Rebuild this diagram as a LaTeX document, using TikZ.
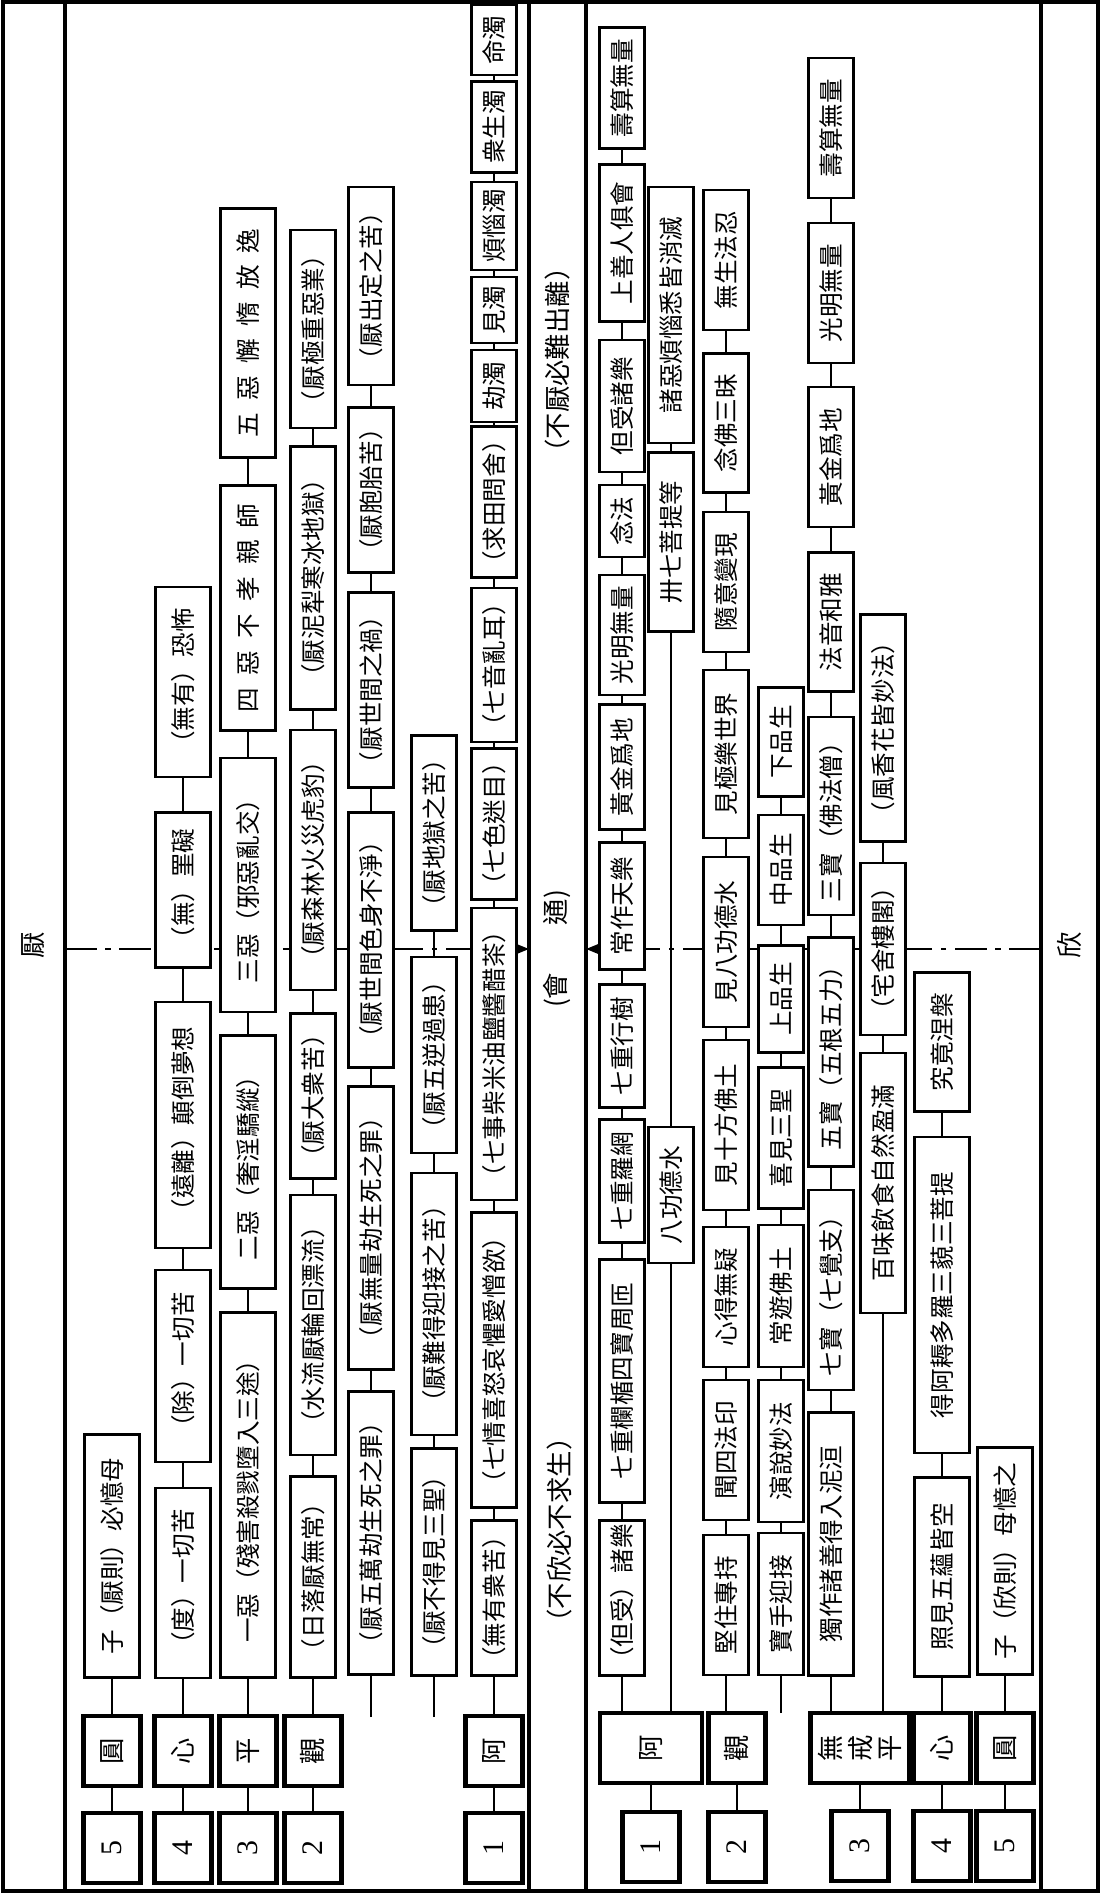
\documentclass[tikz,border=0pt]{standalone}
\usepackage{fontspec}
\setmainfont{Noto Sans CJK TC}
\newfontfamily\numfont{Liberation Serif}
\usetikzlibrary{arrows.meta}
\begin{document}
\begin{tikzpicture}[x=0.02cm, y=-0.02cm, line width=1.5pt,
    box/.style={draw, fill=white, rotate=90, line width=1.4pt, inner sep=1pt,
      minimum height=45*0.02cm, font=\fontsize{14}{16}\selectfont},
    wide/.style={box, minimum height=55*0.02cm},
    boxlen/.style={minimum width=#1*0.02cm},
    root/.style={draw, fill=white, rotate=90, line width=2.6pt, inner sep=1pt,
      minimum width=70*0.02cm, minimum height=57*0.02cm, font=\fontsize{15}{17}\selectfont},
    numbox/.style={root, font=\numfont\fontsize{17}{19}\selectfont},
    side/.style={rotate=90, font=\fontsize{15}{17}\selectfont},
    frame/.style={line width=2.2pt},
    axis/.style={line width=1.3pt, dash pattern=on 18pt off 5pt on 3pt off 5pt,
      -{Triangle[length=9pt,width=7pt]}}]
    \useasboundingbox (0,0) rectangle (1108,1894);

    % Cornice e divisori
    \draw[frame] (3,2) rectangle (1098,1891);
    \draw[frame] (65,2) -- (65,1891);
    \draw[frame] (1041,2) -- (1041,1891);
    \draw[frame] (529,2) -- (529,1891);
    \draw[frame] (586,2) -- (586,1891);

    % Asse centrale (tratto-punto)
    \coordinate (yl) at (65,949);
    \coordinate (ym1) at (529,949);
    \coordinate (ym2) at (586,949);
    \coordinate (xr) at (1041,949);
    \draw[axis] (yl) -- (ym1);
    \draw[axis] (xr) -- (ym2);

    % Titoli laterali e centrali
    \node[side] (tyan) at (33,945) {厭};
    \node[side] (txin) at (1069,945) {欣};
    \node[side] (t1) at (557,360) {（不厭必難出離）};
    \node[side] (t2) at (557,949) {(會\hspace{1.8em}通)};
    \node[side] (t3) at (559,1530) {（不欣必不求生）};

    % Meta superiore: colonna 5
    \node[numbox] (ua0) at (112,1848) {5};
    \node[root] (ua) at (112,1751) {圓};
    \node[wide, boxlen=243] (ua1) at (112,1556) {子（厭則）必憶母};

    % colonna 4
    \node[numbox] (ub0) at (183,1848) {4};
    \node[root] (ub) at (183,1751) {心};
    \node[wide, boxlen=190] (ub1) at (183,1583) {（度）一切苦};
    \node[wide, boxlen=192] (ub2) at (183,1366) {（除）一切苦};
    \node[wide, boxlen=246] (ub3) at (183,1125) {（遠離）顛倒夢想};
    \node[wide, boxlen=155] (ub4) at (183,890) {（無）罣礙};
    \node[wide, boxlen=190] (ub5) at (183,682) {（無有）恐怖};

    % colonna 3
    \node[numbox] (uc0) at (248,1848) {3};
    \node[root] (uc) at (248,1751) {平};
    \node[wide, boxlen=365] (uc1) at (248,1495) {一惡（殘害殺戮墮入三途）};
    \node[wide, boxlen=253] (uc2) at (248,1162) {二惡（奢淫驕縱）};
    \node[wide, boxlen=254] (uc3) at (248,885) {三惡（邪惡亂交）};
    \node[wide, boxlen=245] (uc4) at (248,608) {四\enskip 惡\enskip 不\enskip 孝\enskip 親\enskip 師};
    \node[wide, boxlen=249] (uc5) at (248,333) {五\enskip 惡\enskip 懈\enskip 惰\enskip 放\enskip 逸};

    % colonna 2
    \node[numbox] (ud0) at (313,1848) {2};
    \node[root] (ud) at (313,1751) {觀};
    \node[box, boxlen=201] (ud1) at (313,1577) {（日落厭無常）};
    \node[box, boxlen=260] (ud2) at (313,1325) {（水流厭輪回漂流）};
    \node[box, boxlen=165] (ud3) at (313,1096) {（厭大衆苦）};
    \node[box, boxlen=260] (ud4) at (313,860) {（厭森林火災虎豹）};
    \node[box, boxlen=263] (ud5) at (313,578) {（厭泥犁寒冰地獄）};
    \node[box, boxlen=198] (ud6) at (313,329) {（厭極重惡業）};

    % rami liberi
    \coordinate (ue0) at (371,1717);
    \node[box, boxlen=283] (ue1) at (371,1533) {（厭五萬劫生死之罪）};
    \node[box, boxlen=283] (ue2) at (371,1228) {（厭無量劫生死之罪）};
    \node[box, boxlen=255] (ue3) at (371,940) {（厭世間色身不淨）};
    \node[box, boxlen=195] (ue4) at (371,690) {（厭世間之禍）};
    \node[box, boxlen=165] (ue5) at (371,490) {（厭胞胎苦）};
    \node[box, boxlen=198] (ue6) at (371,286) {（厭出定之苦）};

    \coordinate (uf0) at (434,1717);
    \node[box, boxlen=227] (uf1) at (434,1562) {（厭不得見三聖）};
    \node[box, boxlen=262] (uf2) at (434,1304) {（厭難得迎接之苦）};
    \node[box, boxlen=196] (uf3) at (434,1055) {（厭五逆過患）};
    \node[box, boxlen=195] (uf4) at (434,833) {（厭地獄之苦）};

    % colonna 1
    \node[numbox] (ug0) at (494,1848) {1};
    \node[root] (ug) at (494,1751) {阿};
    \node[box, boxlen=155] (ug1) at (494,1598) {（無有衆苦）};
    \node[box, boxlen=295] (ug2) at (494,1360) {（七情喜怒哀懼愛憎欲）};
    \node[box, boxlen=292] (ug3) at (494,1054) {（七事柴米油鹽醬醋茶）};
    \node[box, boxlen=148] (ug4) at (494,824) {（七色迷目）};
    \node[box, boxlen=154] (ug5) at (494,665) {（七音亂耳）};
    \node[box, boxlen=151] (ug6) at (494,502) {（求田問舍）};
    \node[box, boxlen=72] (ug7) at (494,386) {劫濁};
    \node[box, boxlen=66] (ug8) at (494,310) {見濁};
    \node[box, boxlen=88] (ug9) at (494,226) {煩惱濁};
    \node[box, boxlen=91] (ug10) at (494,127) {衆生濁};
    \node[box, boxlen=70] (ug11) at (494,40) {命濁};

    % Meta inferiore: colonna 1
    \node[numbox] (la0) at (651,1847) {1};
    \node[root, minimum height=102*0.02cm] (la) at (651,1748) {阿};
    \node[box, boxlen=155] (lh1) at (622,1598) {（但受）諸樂};
    \node[box, boxlen=243] (lh2) at (622,1381) {七重欄楯四寶周匝};
    \node[box, boxlen=123] (lh3) at (622,1181) {七重羅網};
    \node[box, boxlen=123] (lh4) at (622,1046) {七重行樹};
    \node[box, boxlen=127] (lh5) at (622,906) {常作天樂};
    \node[box, boxlen=125] (lh6) at (622,767) {黃金爲地};
    \node[box, boxlen=120] (lh7) at (622,635) {光明無量};
    \node[box, boxlen=72] (lh8) at (622,521) {念法};
    \node[box, boxlen=132] (lh9) at (622,406) {但受諸樂};
    \node[box, boxlen=157] (lh10) at (622,243) {上善人俱會};
    \node[box, boxlen=121] (lh11) at (622,88) {壽算無量};

    \node[box, boxlen=136] (li1) at (671,1195) {八功德水};
    \node[box, boxlen=179] (li2) at (671,542) {卅七菩提等};
    \node[box, boxlen=256] (li3) at (671,315) {諸惡煩惱悉皆消滅};

    % colonna 2
    \node[numbox] (lb0) at (737,1847) {2};
    \node[root] (lb) at (737,1748) {觀};
    \node[box, boxlen=140] (lj1) at (726,1605) {堅住專持};
    \node[box, boxlen=140] (lj2) at (726,1450) {聞四法印};
    \node[box, boxlen=140] (lj3) at (726,1297) {心得無疑};
    \node[box, boxlen=170] (lj4) at (726,1125) {見十方佛土};
    \node[box, boxlen=170] (lj5) at (726,942) {見八功德水};
    \node[box, boxlen=168] (lj6) at (726,754) {見極樂世界};
    \node[box, boxlen=140] (lj7) at (726,582) {隨意變現};
    \node[box, boxlen=139] (lj8) at (726,423) {念佛三昧};
    \node[box, boxlen=140] (lj9) at (726,260) {無生法忍};

    \coordinate (lk0) at (781,1713);
    \node[box, boxlen=142] (lk1) at (781,1604) {寶手迎接};
    \node[box, boxlen=142] (lk2) at (781,1451) {演說妙法};
    \node[box, boxlen=142] (lk3) at (781,1296) {常遊佛土};
    \node[box, boxlen=141] (lk4) at (781,1138) {喜見三聖};
    \node[box, boxlen=107] (lk5) at (781,999) {上品生};
    \node[box, boxlen=110] (lk6) at (781,870) {中品生};
    \node[box, boxlen=109] (lk7) at (781,742) {下品生};

    % colonna 3
    \node[numbox] (lc0) at (860,1846) {3};
    \node[root, minimum height=99*0.02cm, align=center] (lc) at (860,1748) {無\\戒\\平};
    \node[box, boxlen=263] (ll1) at (831,1544) {獨作諸善得入泥洹};
    \node[box, boxlen=200] (ll2) at (831,1290) {七寶（七覺支）};
    \node[box, boxlen=229] (ll3) at (831,1052) {五寶（五根五力）};
    \node[box, boxlen=198] (ll4) at (831,816) {三寶（佛法僧）};
    \node[box, boxlen=139] (ll5) at (831,622) {法音和雅};
    \node[box, boxlen=140] (ll6) at (831,457) {黃金爲地};
    \node[box, boxlen=140] (ll7) at (831,293) {光明無量};
    \node[box, boxlen=140] (ll8) at (831,128) {壽算無量};

    \node[box, boxlen=260] (lm1) at (883,1183) {百味飲食自然盈滿};
    \node[box, boxlen=172] (lm2) at (883,949) {（宅舍樓閣）};
    \node[box, boxlen=227] (lm3) at (883,728) {（風香花皆妙法）};

    % colonna 4
    \node[numbox] (ln0) at (942,1846) {4};
    \node[root] (ln) at (942,1748) {心};
    \node[wide, boxlen=199] (ln1) at (942,1577) {照見五蘊皆空};
    \node[wide, boxlen=316] (ln2) at (942,1295) {得阿耨多羅三藐三菩提};
    \node[wide, boxlen=139] (ln3) at (942,1042) {究竟涅槃};

    % colonna 5
    \node[numbox] (lo0) at (1005,1846) {5};
    \node[root] (lo) at (1005,1748) {圓};
    \node[wide, boxlen=227] (lo1) at (1005,1561) {子（欣則）母憶之};

    % Collegamenti lungo le colonne
    \foreach \a/\b in {ua0/ua, ua/ua1,
        ub0/ub, ub/ub1, ub1/ub2, ub2/ub3, ub3/ub4, ub4/ub5,
        uc0/uc, uc/uc1, uc1/uc2, uc2/uc3, uc3/uc4, uc4/uc5,
        ud0/ud, ud/ud1, ud1/ud2, ud2/ud3, ud3/ud4, ud4/ud5, ud5/ud6,
        ue0/ue1, ue1/ue2, ue2/ue3, ue3/ue4, ue4/ue5, ue5/ue6,
        uf0/uf1, uf1/uf2, uf2/uf3, uf3/uf4,
        ug0/ug, ug/ug1, ug1/ug2, ug2/ug3, ug3/ug4, ug4/ug5, ug5/ug6,
        ug6/ug7, ug7/ug8, ug8/ug9, ug9/ug10, ug10/ug11,
        la0/la, lh1/lh2, lh2/lh3, lh3/lh4, lh4/lh5, lh5/lh6, lh6/lh7,
        lh7/lh8, lh8/lh9, lh9/lh10, lh10/lh11,
        li1/li2, li2/li3,
        lb0/lb, lj1/lj2, lj2/lj3, lj3/lj4, lj4/lj5, lj5/lj6, lj6/lj7, lj7/lj8, lj8/lj9,
        lk0/lk1, lk1/lk2, lk2/lk3, lk3/lk4, lk4/lk5, lk5/lk6, lk6/lk7,
        lc0/lc, ll1/ll2, ll2/ll3, ll3/ll4, ll4/ll5, ll5/ll6, ll6/ll7, ll7/ll8,
        lm1/lm2, lm2/lm3,
        ln0/ln, ln/ln1, ln1/ln2, ln2/ln3,
        lo0/lo, lo/lo1}
      \draw (\a) -- (\b);

    % Rami dai nodi larghi
    \draw (lh1) -- (lh1 |- la.east);
    \draw (li1) -- (li1 |- la.east);
    \draw (lj1) -- (lj1 |- lb.east);
    \draw (ll1) -- (ll1 |- lc.east);
    \draw (lm1) -- (lm1 |- lc.east);
\end{tikzpicture}
\end{document}
